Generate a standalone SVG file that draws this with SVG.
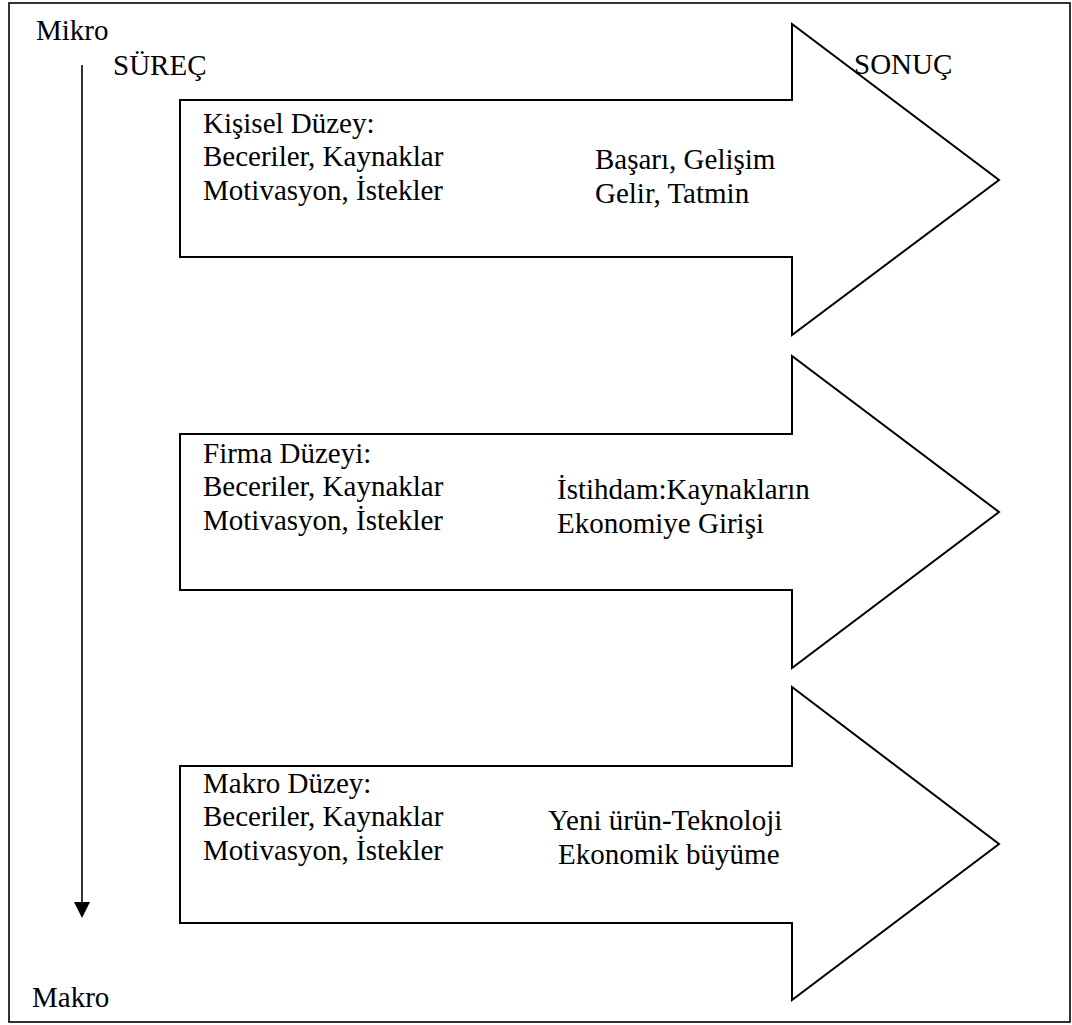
<svg xmlns="http://www.w3.org/2000/svg" width="1072" height="1025" viewBox="0 0 1072 1025">
<style>
  .t { font-family: "Liberation Serif", "Times New Roman", serif; font-size: 29px; fill: #000; }
  .arrow { fill: #fff; stroke: #000; stroke-width: 2; stroke-linejoin: miter; }
  .frame { fill: #fff; stroke: #000; stroke-width: 1.6; }
</style>
<defs>
  <marker id="ah" markerWidth="17" markerHeight="16" refX="0" refY="8" orient="auto" markerUnits="userSpaceOnUse" viewBox="0 0 17 16">
    <path d="M0,0 L16,8 L0,16 Z" fill="#000"/>
  </marker>
</defs>
<rect class="frame" x="9" y="3" width="1061" height="1019"/>
<g id="labels">
  <text class="t" x="36" y="40">Mikro</text>
  <text class="t" x="113" y="75">SÜREÇ</text>
  <text class="t" x="32" y="1007">Makro</text>
</g>
<g id="node-kisisel">
  <path class="arrow" d="M180,100 H792 V24 L999,180 L792,335 V257 H180 Z"/>
  <text class="t" x="203" y="133">Kişisel Düzey:</text>
  <text class="t" x="203" y="166">Beceriler, Kaynaklar</text>
  <text class="t" x="203" y="200">Motivasyon, İstekler</text>
  <text class="t" x="595" y="169">Başarı, Gelişim</text>
  <text class="t" x="595" y="203">Gelir, Tatmin</text>
</g>
<g id="sonuc">
  <text class="t" x="854" y="74">SONUÇ</text>
</g>
<g id="node-firma">
  <path class="arrow" d="M180,434 H792 V356 L999,512 L792,668 V590 H180 Z"/>
  <text class="t" x="203" y="463">Firma Düzeyi:</text>
  <text class="t" x="203" y="496">Beceriler, Kaynaklar</text>
  <text class="t" x="203" y="530">Motivasyon, İstekler</text>
  <text class="t" x="557" y="499">İstihdam:Kaynakların</text>
  <text class="t" x="557" y="533">Ekonomiye Girişi</text>
</g>
<g id="node-makro">
  <path class="arrow" d="M180,766 H792 V687 L999,844 L792,1000 V923 H180 Z"/>
  <text class="t" x="203" y="793">Makro Düzey:</text>
  <text class="t" x="203" y="826">Beceriler, Kaynaklar</text>
  <text class="t" x="203" y="860">Motivasyon, İstekler</text>
  <text class="t" x="548" y="830">Yeni ürün-Teknoloji</text>
  <text class="t" x="558" y="864">Ekonomik büyüme</text>
</g>
<g id="connectors">
  <line x1="82" y1="65" x2="82" y2="902" stroke="#000" stroke-width="1.6" marker-end="url(#ah)"/>
</g>
</svg>
